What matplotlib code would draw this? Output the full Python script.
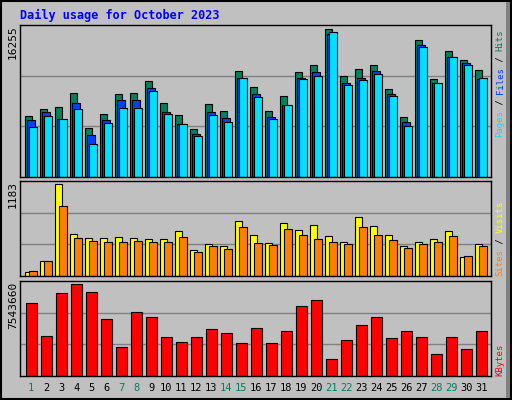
import matplotlib
matplotlib.use("Agg")
import matplotlib.pyplot as plt
import numpy as np

days = list(range(1, 32))
weekend = [1, 7, 8, 14, 15, 21, 22, 28, 29]
hits = [6573,7324,7538,8931,5287,6788,8824,8931,10217,7967,6681,5180,7860,7109,11289,9574,7109,8610,11182,11932,15790,10753,11503,11932,9360,6466,14612,10432,13433,12468,11396]
files = [6145,7002,6252,7967,4537,6145,8181,8181,9467,7002,5716,4644,7002,6359,10539,8824,6466,7752,10539,11182,15255,10003,10539,11289,8824,5930,14076,10003,12790,12147,10432]
pages = [5394,6573,6252,7324,3573,5823,7431,7431,9146,6788,5716,4430,6681,5930,10539,8503,6252,7752,10432,10753,15469,9789,10325,10968,8610,5502,13861,10003,12790,11932,10539]
visits = [50,187,1150,525,475,475,487,475,462,462,562,325,400,375,687,512,412,662,575,637,500,425,737,625,512,375,425,462,562,237,400]
sites = [62,187,875,475,437,425,425,437,425,425,487,300,375,337,612,412,387,587,512,462,425,400,612,512,450,350,400,425,500,250,375]
kbytes = [5805,3157,6607,7330,6688,4521,2274,5083,4681,3076,2675,3076,3718,3397,2595,3799,2595,3558,5564,6046,1311,2836,4039,4681,2996,3558,3076,1712,3076,2113,3558]
kbytes = [k * 1000 for k in kbytes]
max_hits = 16255
max_visits = 1183
max_kb = 7543660

W, H = 512, 400
fig = plt.figure(figsize=(5.12, 4.0), dpi=100, facecolor="#C0C0C0")
mono = "DejaVu Sans Mono"

def ax_at(top, bottom):
    ax = fig.add_axes([20 / W, (H - bottom) / H, 471 / W, (bottom - top) / H])
    ax.set_facecolor("#C0C0C0")
    ax.set_xlim(0.5, 0.5 + 471 / 15)
    ax.set_xticks([]); ax.set_yticks([])
    for s in ax.spines.values():
        s.set_color("black"); s.set_linewidth(1)
    return ax

x = np.array(days, dtype=float)

ax1 = ax_at(25, 177)
ax1.set_ylim(0, max_hits)
for f in (1/3, 2/3):
    ax1.axhline(max_hits * f, color="#808080", lw=1, zorder=0)
w = 0.5
ax1.bar(x - 0.167, hits, width=w, align="edge", color="#00805C", edgecolor="black", lw=0.8)
ax1.bar(x - 0.03, files, width=w, align="edge", color="#0040FF", edgecolor="black", lw=0.8)
ax1.bar(x + 0.1, pages, width=w, align="edge", color="#00E0FF", edgecolor="black", lw=0.8)

ax2 = ax_at(181, 276)
ax2.set_ylim(0, max_visits)
for f in (1/3, 2/3):
    ax2.axhline(max_visits * f, color="#808080", lw=1, zorder=0)
ax2.bar(x - 0.167, visits, width=w, align="edge", color="#FFFF00", edgecolor="black", lw=0.8)
ax2.bar(x + 0.1, sites, width=w, align="edge", color="#FF8000", edgecolor="black", lw=0.8)

ax3 = ax_at(281, 376)
ax3.set_ylim(0, max_kb)
for f in (1/3, 2/3):
    ax3.axhline(max_kb * f, color="#808080", lw=1, zorder=0)
ax3.bar(x - 0.1, kbytes, width=0.71, align="edge", color="#FF0000", edgecolor="black", lw=0.8)

for d in days:
    col = "#00805C" if d in weekend else "black"
    ax3.text(d + 0.25, -0.13, str(d), transform=ax3.get_xaxis_transform(),
             ha="center", va="center", fontsize=7.5, color=col, family=mono)

def px(xp, yp):
    return xp / W, 1 - yp / H

fig.text(*px(20, 15), "Daily usage for October 2023", color="#0000FF",
         fontsize=8.5, fontweight="bold", family=mono, va="center", ha="left")
fig.text(*px(13, 25), "16255", rotation=90, ha="center", va="top", fontsize=8, family=mono)
fig.text(*px(13, 181), "1183", rotation=90, ha="center", va="top", fontsize=8, family=mono)
fig.text(*px(13, 282), "7543660", rotation=90, ha="center", va="top", fontsize=8, family=mono)

CH = 5.4
def stacked(xp, ybottom, parts):
    y = ybottom
    for s, c in parts:
        fig.text(*px(xp, y), s, rotation=90, ha="center", va="bottom",
                 fontsize=6.5, family=mono, color=c)
        y -= len(s) * CH
stacked(500, 137, [("Pages", "#00E0FF"), (" / ", "#000000"), ("Files", "#0040FF"), (" / ", "#000000"), ("Hits", "#00805C")])
stacked(500, 276, [("Sites", "#FF8000"), (" / ", "#000000"), ("Visits", "#FFFF00")])
stacked(500, 376, [("KBytes", "#FF0000")])

fig.patches.append(plt.Rectangle((0.002, 0.002), 0.996, 0.996, transform=fig.transFigure,
                                 fill=False, edgecolor="black", lw=1.5))
fig.patches.append(plt.Rectangle((506 / W, 0.004), 4 / W, 0.99, transform=fig.transFigure,
                                 color="#808080", lw=0))
fig.savefig("out.png", dpi=100, facecolor="#C0C0C0")
